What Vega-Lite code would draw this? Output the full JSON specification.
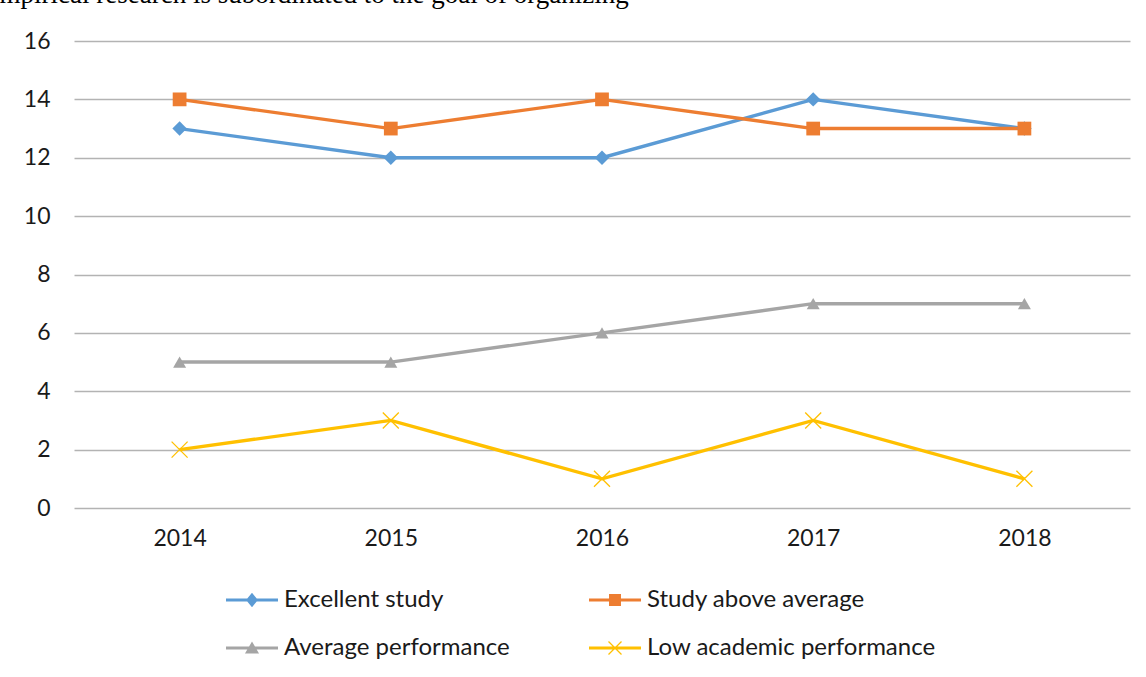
{
  "$schema": "https://vega.github.io/schema/vega-lite/v6.json",
  "width": 1056,
  "height": 467,
  "autosize": "none",
  "padding": {"left": 74, "top": 41, "right": 16, "bottom": 169},
  "background": "white",
  "title": {
    "text": "Empirical research is subordinated to the goal of organizing",
    "anchor": "start",
    "frame": "group",
    "font": "Liberation Serif",
    "fontSize": 27,
    "fontWeight": "normal",
    "color": "black",
    "baseline": "alphabetic",
    "offset": 0,
    "dx": -91
  },
  "config": {"view": {"stroke": null}, "font": "Lato"},
  "data": {
    "values": [
      {"year": "2014", "series": "Excellent study", "value": 13},
      {"year": "2015", "series": "Excellent study", "value": 12},
      {"year": "2016", "series": "Excellent study", "value": 12},
      {"year": "2017", "series": "Excellent study", "value": 14},
      {"year": "2018", "series": "Excellent study", "value": 13},
      {"year": "2014", "series": "Study above average", "value": 14},
      {"year": "2015", "series": "Study above average", "value": 13},
      {"year": "2016", "series": "Study above average", "value": 14},
      {"year": "2017", "series": "Study above average", "value": 13},
      {"year": "2018", "series": "Study above average", "value": 13},
      {"year": "2014", "series": "Average performance", "value": 5},
      {"year": "2015", "series": "Average performance", "value": 5},
      {"year": "2016", "series": "Average performance", "value": 6},
      {"year": "2017", "series": "Average performance", "value": 7},
      {"year": "2018", "series": "Average performance", "value": 7},
      {"year": "2014", "series": "Low academic performance", "value": 2},
      {"year": "2015", "series": "Low academic performance", "value": 3},
      {"year": "2016", "series": "Low academic performance", "value": 1},
      {"year": "2017", "series": "Low academic performance", "value": 3},
      {"year": "2018", "series": "Low academic performance", "value": 1}
    ]
  },
  "encoding": {
    "x": {
      "field": "year",
      "type": "ordinal",
      "scale": {"type": "point", "padding": 0.5},
      "axis": {
        "title": null,
        "labelAngle": 0,
        "domain": false,
        "ticks": false,
        "grid": false,
        "labelFontSize": 23,
        "labelColor": "#1a1a1a",
        "labelPadding": 19
      }
    },
    "y": {
      "field": "value",
      "type": "quantitative",
      "scale": {"domain": [0, 16], "nice": false},
      "axis": {
        "title": null,
        "values": [0, 2, 4, 6, 8, 10, 12, 14, 16],
        "domain": false,
        "ticks": false,
        "gridColor": "#b3b3b3",
        "gridWidth": 1.3,
        "labelFontSize": 23,
        "labelColor": "#1a1a1a",
        "labelPadding": 24
      }
    },
    "color": {
      "field": "series",
      "type": "nominal",
      "scale": {
        "domain": ["Excellent study", "Study above average", "Average performance", "Low academic performance"],
        "range": ["#5b9bd5", "#ed7d31", "#a5a5a5", "#ffc000"]
      },
      "legend": {
        "orient": "none",
        "legendX": 165,
        "legendY": 546,
        "direction": "horizontal",
        "columns": 2,
        "title": null,
        "symbolSize": 676,
        "labelOffset": 19,
        "labelFontSize": 24,
        "labelLimit": 600,
        "labelColor": "#1a1a1a",
        "columnPadding": 79,
        "rowPadding": 23,
        "padding": 0,
        "symbolStrokeWidth": 0,
        "encode": {
          "symbols": {
            "update": {
              "shape": {"signal": "datum.value === 'Excellent study' ? 'M-2,-0.115H2V0.115H-2Z M0,-0.55L0.46,0L0,0.55L-0.46,0Z' : datum.value === 'Study above average' ? 'M-2,-0.115H2V0.115H-2Z M-0.46,-0.46H0.46V0.46H-0.46Z' : datum.value === 'Average performance' ? 'M-2,-0.115H2V0.115H-2Z M0,-0.5L0.54,0.42L-0.54,0.42Z' : 'M-2,-0.115H2V0.115H-2Z M-0.465,-0.535L0.535,0.465L0.465,0.535L-0.535,-0.465Z M0.465,-0.535L0.535,-0.465L-0.465,0.535L-0.535,0.465Z'"},
              "fill": {"signal": "scale('color', datum.value)"},
              "opacity": {"value": 1},
              "strokeWidth": {"value": 0}
            }
          }
        }
      }
    }
  },
  "layer": [
    {
      "mark": {"type": "line", "strokeWidth": 3.4}
    },
    {
      "transform": [{"filter": "datum.series !== 'Low academic performance'"}],
      "mark": {"type": "point", "filled": true, "opacity": 1},
      "encoding": {
        "shape": {
          "field": "series",
          "type": "nominal",
          "scale": {
            "domain": ["Excellent study", "Study above average", "Average performance"],
            "range": ["diamond", "square", "triangle-up"]
          },
          "legend": null
        },
        "size": {
          "field": "series",
          "type": "nominal",
          "scale": {
            "domain": ["Excellent study", "Study above average", "Average performance"],
            "range": [210, 169, 225]
          },
          "legend": null
        }
      }
    },
    {
      "transform": [{"filter": "datum.series === 'Low academic performance'"}],
      "mark": {"type": "point", "filled": false, "opacity": 1, "shape": "M-1,-1L1,1M1,-1L-1,1", "size": 256, "strokeWidth": 1.3}
    }
  ]
}
